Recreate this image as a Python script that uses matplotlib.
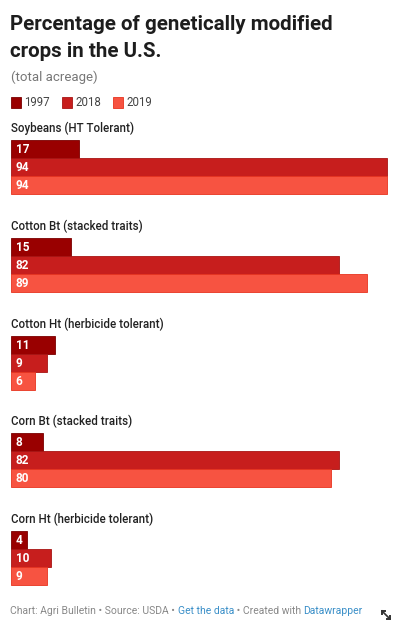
import matplotlib
matplotlib.use("Agg")
import matplotlib.pyplot as plt
from matplotlib.patches import Rectangle

plt.rcParams["font.family"] = ["Roboto", "DejaVu Sans"]

crops = ["Soybeans (HT Tolerant)", "Cotton Bt (stacked traits)",
         "Cotton Ht (herbicide tolerant)", "Corn Bt (stacked traits)",
         "Corn Ht (herbicide tolerant)"]
years = ["1997", "2018", "2019"]
v1997 = [17, 15, 11, 8, 4]
v2018 = [94, 82, 9, 82, 10]
v2019 = [94, 89, 6, 80, 9]
colors = ["#990000", "#c71e1d", "#f75341"]
edges = ["#7a0000", "#a81514", "#e8331f"]

W, H = 398, 625
fig = plt.figure(figsize=(W / 100, H / 100), dpi=100)
ax = fig.add_axes([0, 0, 1, 1])
ax.set_xlim(-11 / 4, (W - 11) / 4)
ax.set_ylim(H, 0)
ax.axis("off")

# title block (y in pixels from top)
ax.text(-2.75 + 10 / 4, 30, "Percentage of genetically modified", fontsize=14.8,
        fontweight="bold", color="#1d1d1d", va="baseline")
ax.text(-2.75 + 10 / 4, 57, "crops in the U.S.", fontsize=14.8,
        fontweight="bold", color="#1d1d1d", va="baseline")
ax.text(0, 81, "(total acreage)", fontsize=9.5, color="#777777", va="baseline")

# legend
lx = 0
for yr, c, e in zip(years, colors, edges):
    ax.add_patch(Rectangle((lx, 97), 2.5, 11, facecolor=c, edgecolor=e, lw=0.6))
    ax.text(lx + 3.3, 106.5, yr, fontsize=8.3, color="#444444", va="baseline")
    lx += 12.8

series = [v1997, v2018, v2019]
group_top = 140
step = 97.8
bar_h = 18
for g, crop in enumerate(crops):
    top = group_top + g * step
    ax.text(0, top - 8, crop, fontsize=8.3, fontweight="medium", color="#222222",
            va="baseline")
    for k in range(3):
        val = series[k][g]
        y = top + k * bar_h + bar_h / 2
        ax.barh(y, val, height=bar_h, left=0, color=colors[k],
                edgecolor=edges[k], linewidth=0.6)
        ax.text(1.2, y + 0.5, str(val), fontsize=8.5, fontweight="bold",
                color="white", va="center")

# footer
fig.canvas.draw()
r = fig.canvas.get_renderer()
parts = [("Chart: Agri Bulletin \u2022 Source: USDA \u2022 ", "#888888"),
         ("Get the data", "#3a8fc8"),
         (" \u2022 Created with ", "#888888"),
         ("Datawrapper", "#3a8fc8")]
x_px = 10
for txt, c in parts:
    t = fig.text(x_px / W, 1 - 614 / H, txt, fontsize=7.45, color=c, va="baseline")
    bb = t.get_window_extent(renderer=r)
    x_px += bb.width

# fullscreen icon (no installed font has the glyph), drawn as a double arrow
fig.add_artist(plt.Line2D([382 / W, 389 / W], [1 - 611 / H, 1 - 618 / H],
                          color="#333333", lw=1.2, transform=fig.transFigure))
for (x0, y0), (dx, dy) in [((381.5, 610.5), (1, 0)), ((381.5, 610.5), (0, 1)),
                           ((389.5, 618.5), (-1, 0)), ((389.5, 618.5), (0, -1))]:
    fig.add_artist(plt.Line2D([x0 / W, (x0 + 3 * dx) / W],
                              [1 - y0 / H, 1 - (y0 + 3 * dy) / H],
                              color="#333333", lw=1.4, transform=fig.transFigure))

fig.savefig("out.png", dpi=100)
